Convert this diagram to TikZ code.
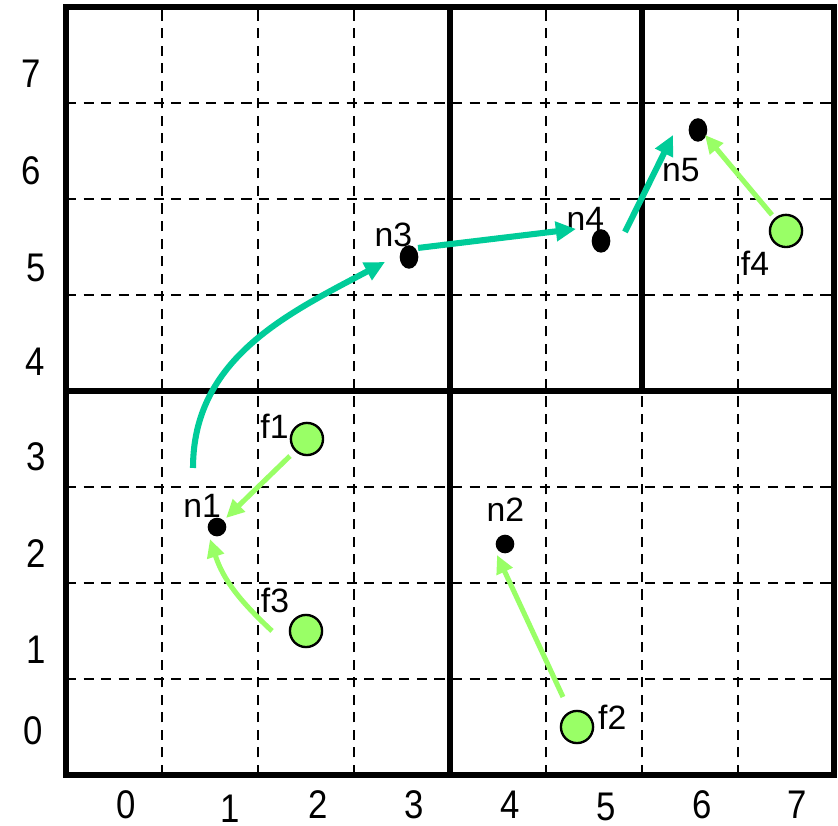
\documentclass[tikz,border=0pt]{standalone}
\usepackage{fontspec}
\setmainfont{Liberation Sans}
\usetikzlibrary{arrows.meta,shapes.geometric}
\definecolor{hopteal}{HTML}{00CC99}
\definecolor{leafgreen}{HTML}{99FF66}

\begin{document}
\begin{tikzpicture}[
cellline/.style={draw=black,line width=0.8pt,dash pattern=on 3pt off 2.2pt},
border/.style={draw=black,line width=1.5pt},
axis/.style={font=\fontsize{10.3}{12}\selectfont,inner sep=0pt,yscale=1.15,transform shape},
tag/.style={font=\fontsize{10}{11}\selectfont,inner sep=0pt},
sink/.style={ellipse,draw=black,fill=black,inner sep=0pt,minimum width=0.18cm,minimum height=0.18cm},
tall/.style={minimum height=0.23cm},
source/.style={circle,draw=black,line width=0.7pt,fill=leafgreen,inner sep=0pt,minimum size=0.335cm},
hop/.style={-{Triangle[length=6pt,width=5.6pt]},draw=hopteal,line width=1.8pt},
feed/.style={-{Triangle[length=5.4pt,width=5pt]},draw=leafgreen,line width=1.5pt}]
\useasboundingbox (-0.6875,-0.531) rectangle (8.0417,8.073);
% grid
\foreach \k in {1,2,3,5,6,7}{
\draw[cellline] (\k,0)--(\k,8);
\draw[cellline] (0,\k)--(8,\k);}
\draw[border] (0,0) rectangle (8,8);
\draw[border] (4,0)--(4,8) (0,4)--(8,4) (6,4)--(6,8);
% axis numbers
\foreach \v/\x/\y in {0/0.625/-0.31,1/1.708/-0.35,2/2.625/-0.31,3/3.625/-0.31,
4/4.625/-0.31,5/5.625/-0.335,6/6.625/-0.31,7/7.615/-0.31}
\node[axis] (xl\v) at (\x,\y) {\v};
\foreach \v/\x/\y in {0/-0.34/0.46,1/-0.31/1.30,2/-0.31/2.31,3/-0.31/3.32,
4/-0.32/4.30,5/-0.31/5.28,6/-0.365/6.29,7/-0.36/7.30}
\node[axis] (yl\v) at (\x,\y) {\v};
% nodes
\node[sink] (n1) at (1.573,2.583) {};
\node[sink] (n2) at (4.573,2.406) {};
\node[sink,tall] (n3) at (3.573,5.396) {};
\node[sink,tall] (n4) at (5.573,5.563) {};
\node[sink,tall] (n5) at (6.583,6.719) {};
\node[source] (f1) at (2.51,3.5) {};
\node[source] (f2) at (5.323,0.5) {};
\node[source] (f3) at (2.5,1.5) {};
\node[source] (f4) at (7.5,5.667) {};
\node[tag] (n1-t) at (1.417,2.80) {n1};
\node[tag] (n2-t) at (4.578,2.76) {n2};
\node[tag] (n3-t) at (3.41,5.63) {n3};
\node[tag] (n4-t) at (5.41,5.79) {n4};
\node[tag] (n5-t) at (6.406,6.297) {n5};
\node[tag] (f1-t) at (2.172,3.635) {f1};
\node[tag] (f2-t) at (5.69,0.60) {f2};
\node[tag] (f3-t) at (2.177,1.82) {f3};
\node[tag] (f4-t) at (7.177,5.328) {f4};
% arrows
\draw[feed] ([shift={(-0.177,-0.177)}]f1.center)--([shift={(0.094,0.094)}]n1.center);
\draw[feed] ([shift={(-0.354,0)}]f3.center) to[out=137,in=-72] ([shift={(-0.073,-0.125)}]n1.center);
\draw[feed] ([shift={(-0.146,0.3125)}]f2.center)--([shift={(-0.083,-0.115)}]n2.center);
\draw[feed] ([shift={(-0.146,0.167)}]f4.center)--([shift={(0.073,-0.052)}]n5.center);
\draw[hop] ([shift={(-0.25,0.615)}]n1.center) to[out=90,in=208] ([shift={(-0.25,-0.052)}]n3.center);
\draw[hop] ([shift={(0.094,0.094)}]n3.center)--([shift={(-0.26,0.125)}]n4.center);
\draw[hop] ([shift={(0.25,0.094)}]n4.center)--([shift={(-0.26,-0.052)}]n5.center);
\end{tikzpicture}
\end{document}
